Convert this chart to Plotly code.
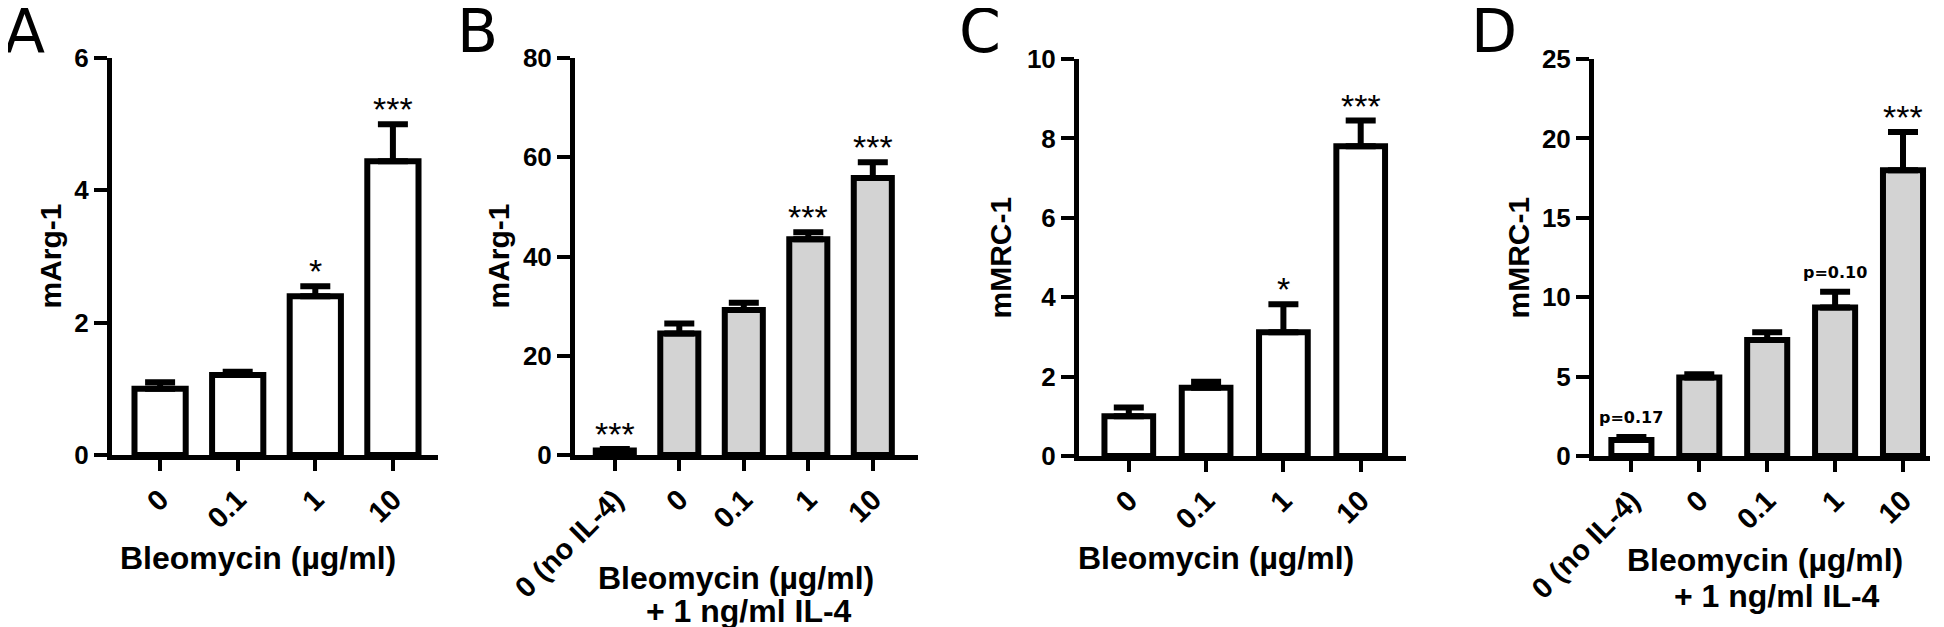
import plotly.graph_objects as go

# ---------------- data ----------------
a_cats = ["0", "0.1", "1", "10"]
a_mean = [1.0, 1.21, 2.40, 4.44]
a_err = [0.10, 0.05, 0.15, 0.56]
a_marks = ["", "", "*", "***"]

b_cats = ["0 (no IL-4)", "0", "0.1", "1", "10"]
b_mean = [0.9, 24.5, 29.2, 43.5, 55.8]
b_err = [0.3, 2.0, 1.5, 1.4, 3.2]
b_marks = ["***", "", "", "***", "***"]

c_cats = ["0", "0.1", "1", "10"]
c_mean = [1.0, 1.72, 3.12, 7.80]
c_err = [0.22, 0.15, 0.70, 0.65]
c_marks = ["", "", "*", "***"]

d_cats = ["0 (no IL-4)", "0", "0.1", "1", "10"]
d_mean = [1.0, 4.95, 7.3, 9.35, 18.0]
d_err = [0.2, 0.2, 0.5, 1.0, 2.4]
d_marks = ["p=0.17", "", "", "p=0.10", "***"]

a_ylabel, b_ylabel, c_ylabel, d_ylabel = "mArg-1", "mArg-1", "mMRC-1", "mMRC-1"
a_yticks = [0, 2, 4, 6]
b_yticks = [0, 20, 40, 60, 80]
c_yticks = [0, 2, 4, 6, 8, 10]
d_yticks = [0, 5, 10, 15, 20, 25]
xtitle_main = "Bleomycin (µg/ml)"
xtitle_il4 = "+ 1 ng/ml IL-4"

WHITE = "#ffffff"
GRAY = "#d3d3d3"

W, H = 1944, 627

panels = [
    dict(letter="A", cats=a_cats, mean=a_mean, err=a_err, marks=a_marks, ylabel=a_ylabel,
         yticks=a_yticks, fills=[WHITE] * 4,
         L=104, R=430, c0=152.1, s=77.6, top=50, bot=447, bw=0.66,
         letter_x=-6, ylab_x=42, xt=[(250, 550, xtitle_main)]),
    dict(letter="B", cats=b_cats, mean=b_mean, err=b_err, marks=b_marks, ylabel=b_ylabel,
         yticks=b_yticks, fills=[WHITE] + [GRAY] * 4,
         L=567, R=910, c0=606.8, s=64.5, top=50, bot=447, bw=0.59,
         letter_x=447, ylab_x=490, xt=[(728, 570, xtitle_main), (741, 603, xtitle_il4)]),
    dict(letter="C", cats=c_cats, mean=c_mean, err=c_err, marks=c_marks, ylabel=c_ylabel,
         yticks=c_yticks, fills=[WHITE] * 4,
         L=1071, R=1398, c0=1120.8, s=77.3, top=51, bot=448, bw=0.63,
         letter_x=949, ylab_x=992, xt=[(1208, 550, xtitle_main)]),
    dict(letter="D", cats=d_cats, mean=d_mean, err=d_err, marks=d_marks, ylabel=d_ylabel,
         yticks=d_yticks, fills=[WHITE] + [GRAY] * 4,
         L=1586, R=1922, c0=1623.4, s=67.9, top=51, bot=448, bw=0.59,
         letter_x=1461, ylab_x=1510, xt=[(1757, 552, xtitle_main), (1769, 588, xtitle_il4)]),
]

BOLD = "Liberation Sans, Arial, sans-serif"
fig = go.Figure()
annotations = []
layout_axes = {}

for i, p in enumerate(panels):
    n = i + 1
    xa = "x" if n == 1 else f"x{n}"
    ya = "y" if n == 1 else f"y{n}"
    fig.add_trace(go.Bar(
        x=p["cats"], y=p["mean"], xaxis=xa, yaxis=ya, width=p["bw"],
        marker=dict(color=p["fills"], line=dict(color="black", width=6)),
        error_y=dict(type="data", array=p["err"], arrayminus=[0] * len(p["err"]),
                     symmetric=False, color="black", thickness=6, width=15),
        showlegend=False, hoverinfo="skip",
    ))
    ymax = p["yticks"][-1]
    xr = [(p["L"] - p["c0"]) / p["s"], (p["R"] - p["c0"]) / p["s"]]
    layout_axes[("xaxis" if n == 1 else f"xaxis{n}")] = dict(
        domain=[p["L"] / W, p["R"] / W], anchor=ya, type="category",
        categoryorder="array", categoryarray=p["cats"], range=xr, automargin=False,
        showline=True, linewidth=5, linecolor="black", ticks="outside",
        ticklen=11, tickwidth=4, tickcolor="black", tickangle=-45,
        tickfont=dict(family=BOLD, size=29, color="black", weight="bold"),
        showgrid=False, zeroline=False, fixedrange=True,
    )
    layout_axes[("yaxis" if n == 1 else f"yaxis{n}")] = dict(
        domain=[1 - p["bot"] / H, 1 - p["top"] / H], anchor=xa, range=[0, ymax],
        tickvals=p["yticks"], showline=True, linewidth=5, linecolor="black",
        ticks="outside", ticklen=13, tickwidth=4, tickcolor="black", automargin=False,
        tickfont=dict(family=BOLD, size=26, color="black", weight="bold"),
        showgrid=False, zeroline=False, fixedrange=True,
    )
    # significance marks (category index used as position)
    for k, (m, e, mk) in enumerate(zip(p["mean"], p["err"], p["marks"])):
        if not mk:
            continue
        if mk.startswith("p="):
            annotations.append(dict(x=k, y=m + e, xref=xa, yref=ya, text=f"<b>{mk}</b>",
                                    showarrow=False, yanchor="bottom", yshift=8,
                                    font=dict(family="DejaVu Sans", size=16, color="black")))
        else:
            annotations.append(dict(x=k, y=m + e, xref=xa, yref=ya, text=mk,
                                    showarrow=False, yanchor="bottom", yshift=-6,
                                    font=dict(family=BOLD, size=34, color="black")))
    # panel letter
    annotations.append(dict(x=p["letter_x"] / W, y=1, xref="paper", yref="paper",
                            text=p["letter"], showarrow=False, xanchor="left", yanchor="top",
                            yshift=14,
                            font=dict(family="DejaVu Sans", size=60, color="black")))
    # y title
    annotations.append(dict(x=p["ylab_x"] / W, y=1 - (p["top"] + p["bot"]) / 2 / H,
                            xref="paper", yref="paper", text=f"<b>{p['ylabel']}</b>",
                            showarrow=False, textangle=-90, xanchor="center", yanchor="middle",
                            font=dict(family=BOLD, size=30, color="black")))
    # x title lines
    for (tx, ty, tt) in p["xt"]:
        annotations.append(dict(x=tx / W, y=1 - ty / H, xref="paper", yref="paper",
                                text=f"<b>{tt}</b>", showarrow=False,
                                xanchor="center", yanchor="middle",
                                font=dict(family=BOLD, size=32, color="black")))

fig.update_layout(
    template="none",
    width=W, height=H, margin=dict(l=0, r=0, t=0, b=0, autoexpand=False),
    paper_bgcolor="white", plot_bgcolor="white",
    annotations=annotations, bargap=0.3, **layout_axes,
)

fig.write_html("out.html", config={"displayModeBar": False})
